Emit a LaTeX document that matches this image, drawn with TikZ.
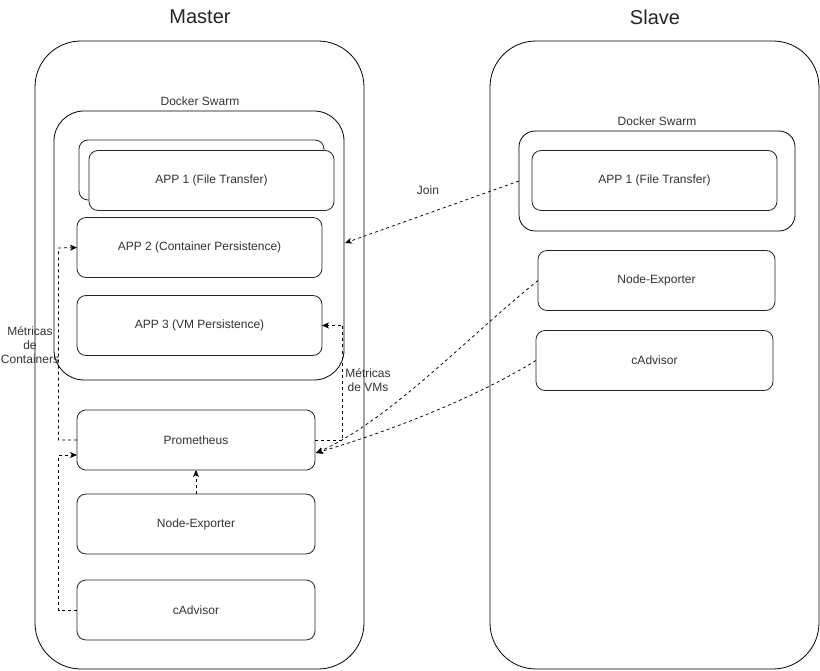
\documentclass[tikz,border=0pt]{standalone}
\usepackage{fontspec}
\setmainfont{Liberation Sans}
\usetikzlibrary{arrows.meta}
\begin{document}
\begin{tikzpicture}[x=1pt,y=-1pt,
  box/.style={draw=black!85, line width=0.8pt, rounded corners=9pt, fill=white, minimum width=245pt, minimum height=60pt, inner sep=0pt, outer sep=0pt, font=\fontsize{12}{14}\selectfont, text=black!80},
  big/.style={draw=black, line width=0.8pt, inner sep=0pt, outer sep=0pt},
  conn/.style={dashed, dash pattern=on 3pt off 3pt, line width=0.75pt, -{Stealth[length=7pt,width=6pt,inset=2pt]}},
  lbl/.style={font=\fontsize{12}{14}\selectfont, text=black!80, align=center, inner sep=1pt}
]
\useasboundingbox (0,0) rectangle (820,671);
% titles
\node[font=\fontsize{20}{24}\selectfont, text=black!85] (tmaster) at (200,17) {Master};
\node[font=\fontsize{20}{24}\selectfont, text=black!85] (tslave) at (655,17) {Slave};
% outer containers
\draw[big, rounded corners=46pt] (35,41) rectangle (364,669);
\draw[big, rounded corners=46pt] (490,41) rectangle (819,669);
% master swarm
\node[lbl] (mswl) at (200,101) {Docker Swarm};
\node[big, rounded corners=30pt, minimum width=290pt, minimum height=269pt] (mswarm) at (199,245.5) {};
\node[box] (app1b) at (201.5,170) {};
\node[box] (app1) at (211.5,180.5) {APP 1 (File Transfer)};
\node[box] (app2) at (199.5,247.5) {APP 2 (Container Persistence)};
\node[box] (app3) at (199.5,325.5) {APP 3 (VM Persistence)};
\node[box, minimum width=238pt] (prom) at (196,440) {Prometheus};
\node[box, minimum width=238pt] (mne) at (196,524) {Node-Exporter};
\node[box, minimum width=238pt] (mcad) at (196,610) {cAdvisor};
% slave
\node[lbl] (sswl) at (657,121) {Docker Swarm};
\node[big, rounded corners=16pt, minimum width=276pt, minimum height=100pt] (sswarm) at (657,181) {};
\node[box] (sapp1) at (654.5,180.5) {APP 1 (File Transfer)};
\node[box, minimum width=237pt] (sne) at (656.5,280.5) {Node-Exporter};
\node[box, minimum width=237pt] (scad) at (654.5,360.5) {cAdvisor};
% connectors
\coordinate (c1) at (58.5,440);
\coordinate (c2) at (58.5,248);
\draw[conn] (prom.west) -- (c1) -- (c2) -- (app2.west);
\node[lbl] (lc) at (30,345) {Métricas\\de\\Containers};
\coordinate (c3) at (58.5,610);
\coordinate (c4) at (58.5,455);
\coordinate (pin) at (77,455);
\draw[conn] (mcad.west) -- (c3) -- (c4) -- (pin);
\coordinate (c5) at (342.5,440);
\coordinate (c6) at (342.5,325.5);
\draw[conn] (prom.east) -- (c5) -- (c6) -- (app3.east);
\node[lbl] (lv) at (368,380) {Métricas\\de VMs};
\draw[conn] (mne.north) -- (prom.south);
\coordinate (jf) at (519,181);
\coordinate (jt) at (345,243);
\draw[conn] (jf) -- (jt);
\node[lbl] (lj) at (428,190) {Join};
\coordinate (pr) at (316,453);
\draw[conn] (sne.west) .. controls (470,335) and (390,420) .. (pr);
\draw[conn] (scad.west) .. controls (480,395) and (400,428) .. (pr);
\end{tikzpicture}
\end{document}
